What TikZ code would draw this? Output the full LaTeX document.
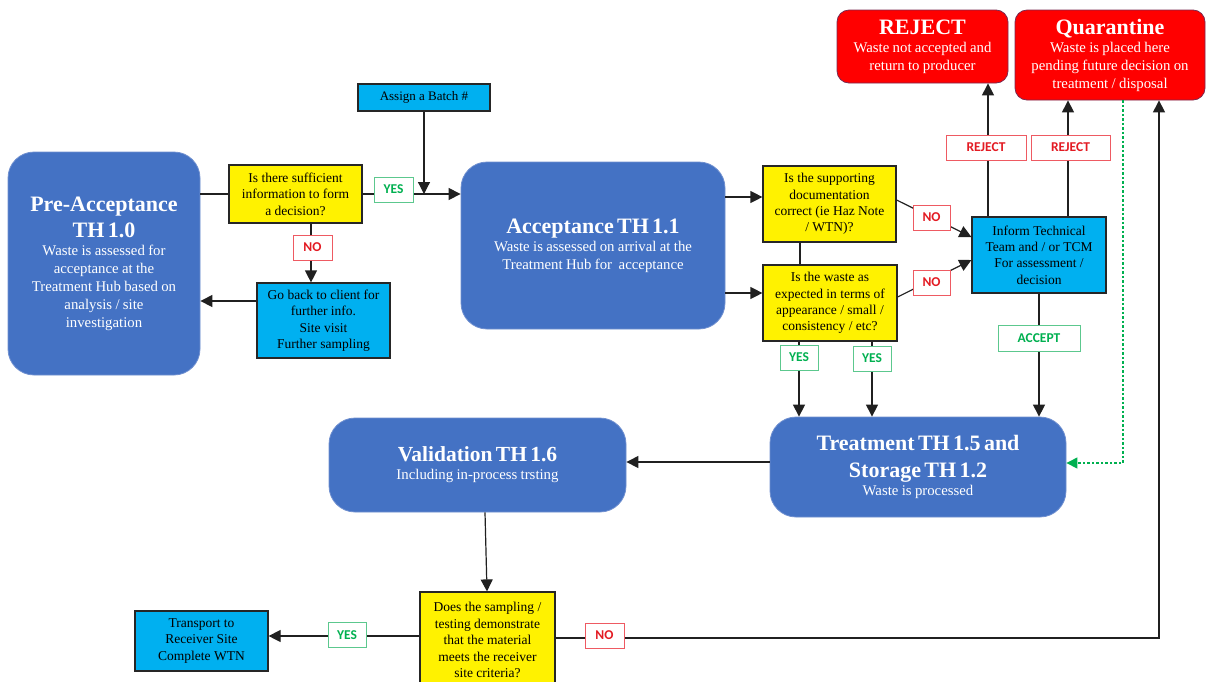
\documentclass[tikz,border=0pt]{standalone}
\usepackage{fontspec}
\setmainfont{Liberation Serif}
\newfontfamily\lblfont{Carlito}
\usetikzlibrary{arrows.meta}
\definecolor{boxblue}{HTML}{4472C4}
\definecolor{bluedge}{HTML}{6F8FCF}
\definecolor{cyanbox}{HTML}{00B0F0}
\definecolor{redbox}{HTML}{FF0000}
\definecolor{redge}{HTML}{7A2A50}
\definecolor{lblgreen}{HTML}{00B050}
\definecolor{lgedge}{HTML}{5CC88E}
\definecolor{lblred}{HTML}{E31B23}
\definecolor{lredge}{HTML}{EE5A62}
\definecolor{linec}{HTML}{202020}
\newcommand\ttl{\fontsize{22}{26}\selectfont\bfseries}
\newcommand\bdy{\fontsize{14.8}{18}\selectfont}
\newcommand\sml{\fontsize{13.5}{16.4}\selectfont}
\tikzset{
  x=1pt,y=-1pt,
  bigbox/.style={draw=bluedge, line width=0.8pt, fill=boxblue, rounded corners=26pt, text=white, align=center, inner sep=0pt},
  redbx/.style={draw=redge, line width=0.8pt, fill=redbox, rounded corners=12pt, text=white, align=center, inner sep=0pt},
  qbox/.style={draw=black!85, line width=1.2pt, fill=yellow, align=center, inner sep=0pt, font=\sml},
  cbox/.style={draw=black!85, line width=1.2pt, fill=cyanbox, align=center, inner sep=0pt, font=\sml},
  glbl/.style={draw=lgedge, line width=1pt, fill=white, text=lblgreen, inner sep=0pt, minimum height=25pt, font=\lblfont\bfseries\fontsize{13.5}{15}\selectfont},
  rlbl/.style={draw=lredge, line width=1pt, fill=white, text=lblred, inner sep=0pt, minimum height=25pt, font=\lblfont\bfseries\fontsize{13.5}{15}\selectfont},
  conn/.style={draw=linec, line width=1.2pt},
  arr/.style={conn, -{Triangle[length=12pt,width=12pt]}},
  darr/.style={draw=lblgreen, line width=1.2pt, dash pattern=on 2.5pt off 2pt, -{Triangle[length=11pt,width=11pt]}}
}
\begin{document}
\begin{tikzpicture}
\useasboundingbox (0,0) rectangle (1206,681);
% main boxes
\node[bigbox, minimum width=192pt, minimum height=223pt, text width=188pt] (pre) at (104,263.5)
  {{\ttl Pre-Acceptance\par TH 1.0\par}\bdy Waste is assessed for\\acceptance at the\\Treatment Hub based on\\analysis / site\\investigation\par};
\node[bigbox, minimum width=264pt, minimum height=167pt, text width=255pt] (acc) at (593,245.5)
  {{\ttl Acceptance TH 1.1\par}\bdy Waste is assessed on arrival at the\\Treatment Hub for\ \ acceptance\par};
\node[bigbox, minimum width=296pt, minimum height=100pt, text width=290pt] (treat) at (918,467)
  {{\ttl Treatment TH 1.5 and\\[1pt]Storage TH 1.2\par}\bdy Waste is processed\par};
\node[bigbox, minimum width=297pt, minimum height=94pt, text width=290pt] (valid) at (477.5,465)
  {{\fontsize{21.5}{25}\selectfont\bfseries Validation TH 1.6\par}\bdy Including in-process trsting\par};
\node[redbx, minimum width=171pt, minimum height=73pt, text width=168pt] (reject) at (922.5,46.5)
  {{\ttl REJECT\par}\bdy Waste not accepted and\\return to producer\par};
\node[redbx, minimum width=190pt, minimum height=90pt, text width=188pt] (quar) at (1110,55)
  {{\ttl Quarantine\par}\bdy Waste is placed here\\pending future decision on\\treatment / disposal\par};
% question boxes
\node[qbox, minimum width=133pt, minimum height=58pt] (dec1) at (295.5,194)
  {Is there sufficient\\information to form\\a decision?};
\node[qbox, minimum width=133pt, minimum height=76pt] (doc) at (829.5,204)
  {Is the supporting\\documentation\\correct (ie Haz Note\\/ WTN)?};
\node[qbox, minimum width=134pt, minimum height=76pt] (waste) at (830,303)
  {Is the waste as\\expected in terms of\\appearance / small /\\consistency / etc?};
\node[qbox, minimum width=135pt, minimum height=96pt] (samp) at (487.5,640)
  {Does the sampling /\\testing demonstrate\\that the material\\meets the receiver\\site criteria?};
% cyan boxes
\node[cbox, minimum width=132pt, minimum height=27pt, font=\fontsize{13}{15}\selectfont] (batch) at (424,97.5) {Assign a Batch \#};
\node[cbox, minimum width=133pt, minimum height=75pt] (goback) at (323.5,320.5)
  {Go back to client for\\further info.\\Site visit\\Further sampling};
\node[cbox, minimum width=134pt, minimum height=76pt] (inform) at (1039,255)
  {Inform Technical\\Team and / or TCM\\For assessment /\\decision};
\node[cbox, minimum width=133pt, minimum height=60pt] (trans) at (201.5,641)
  {Transport to\\Receiver Site\\Complete WTN};
% connectors
\coordinate (join) at (batch.south |- dec1.east);
\draw[conn] (pre.east |- dec1.west) -- (dec1.west);
\draw[arr] (dec1.east) -- (acc.west |- dec1.east);
\draw[arr] (batch.south) -- (join);
\draw[arr] (dec1.south -| 311,0) -- (goback.north -| 311,0);
\draw[arr] (goback.west |- 0,301) -- (pre.east |- 0,301);
\draw[arr] (acc.east |- 0,197) -- (doc.west |- 0,197);
\draw[arr] (acc.east |- 0,293) -- (waste.west |- 0,293);
\draw[conn] (doc.south -| 800,0) -- (waste.north -| 800,0);
\draw[arr] (doc.east |- 0,200) -- (inform.west |- 0,237);
\draw[arr] (waste.east |- 0,297) -- (inform.west |- 0,260);
\draw[arr] (inform.north -| 988,0) -- (reject.south -| 988,0);
\draw[arr] (inform.north -| 1068,0) -- (quar.south -| 1068,0);
\draw[arr] (inform.south) -- (treat.north -| inform.south);
\draw[arr] (waste.south -| 799,0) -- (treat.north -| 799,0);
\draw[arr] (waste.south -| 872,0) -- (treat.north -| 872,0);
\draw[darr] (quar.south -| 1123,0) |- (treat.east |- 0,463);
\draw[arr] (treat.west |- 0,462) -- (valid.east |- 0,462);
\draw[arr] (valid.south -| 485,0) -- (samp.north -| 487,0);
\draw[arr] (samp.west |- 0,636) -- (trans.east |- 0,636);
\draw[arr] (samp.east |- 0,638) -| (quar.south -| 1159,0);
% labels
\node[glbl, minimum width=39pt] (yes1) at (393.5,189.5) {YES};
\node[rlbl, minimum width=39pt] (no1) at (312.5,247.5) {NO};
\node[rlbl, minimum width=37pt] (no2) at (931.5,217.5) {NO};
\node[rlbl, minimum width=37pt] (no3) at (931.5,282.5) {NO};
\node[rlbl, minimum width=80pt] (rej1) at (986,147.5) {REJECT};
\node[rlbl, minimum width=79pt] (rej2) at (1070.5,147.5) {REJECT};
\node[glbl, minimum width=82pt, minimum height=26pt] (acpt) at (1039,338) {ACCEPT};
\node[glbl, minimum width=38pt] (yes2) at (799,357.5) {YES};
\node[glbl, minimum width=38pt] (yes3) at (872,358.5) {YES};
\node[glbl, minimum width=38pt] (yes4) at (347,635) {YES};
\node[rlbl, minimum width=39pt] (no4) at (604.5,635.5) {NO};
\end{tikzpicture}
\end{document}
